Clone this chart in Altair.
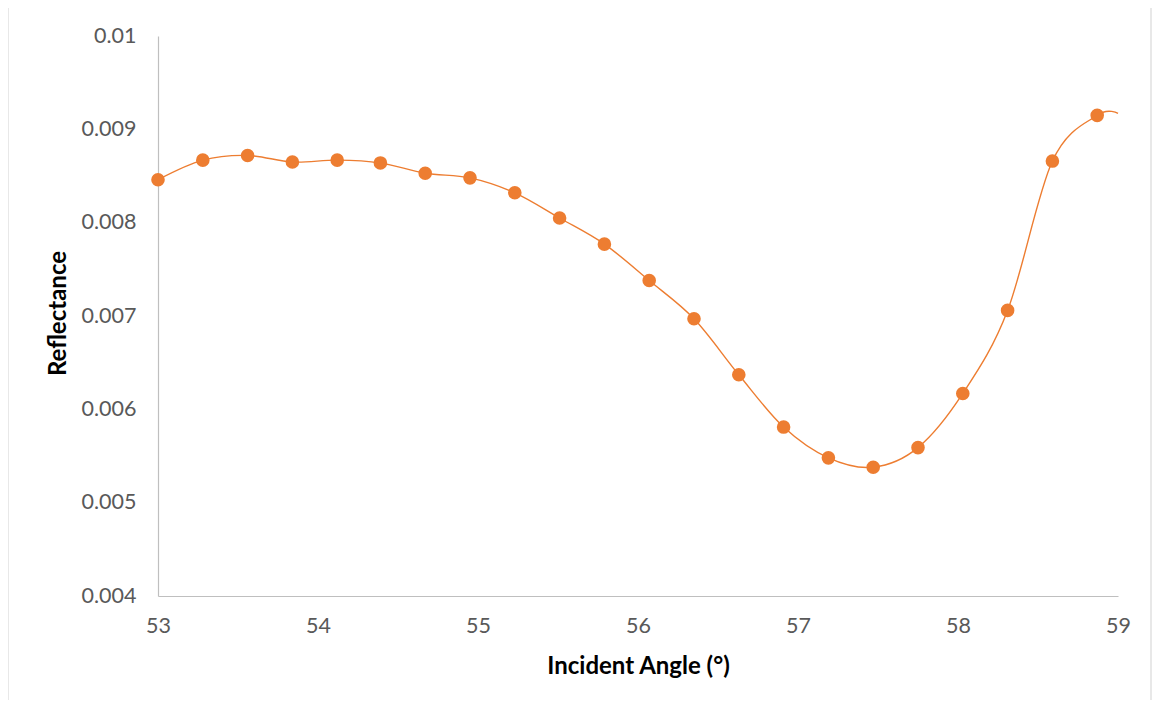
import altair as alt
import pandas as pd

# Measured data (incident angle in degrees, reflectance)
angle = [53.00, 53.28, 53.56, 53.84, 54.12, 54.39, 54.67, 54.95, 55.23, 55.51,
         55.79, 56.07, 56.35, 56.63, 56.91, 57.19, 57.47, 57.75, 58.03, 58.31,
         58.59, 58.87]
reflectance = [0.00846, 0.00867, 0.00872, 0.00865, 0.00867, 0.00864, 0.00853,
               0.00848, 0.00832, 0.00805, 0.00777, 0.00738, 0.00697, 0.00637,
               0.00581, 0.00548, 0.00538, 0.00559, 0.00617, 0.00706, 0.00866,
               0.00915]
# smoothed line continues to the end of the axis
line_angle = angle + [59.0]
line_reflectance = reflectance + [0.00917]

x_ticks = [53, 54, 55, 56, 57, 58, 59]
y_ticks = [0.004, 0.005, 0.006, 0.007, 0.008, 0.009, 0.01]

pts = pd.DataFrame({"angle": angle, "refl": reflectance})
ln = pd.DataFrame({"angle": line_angle, "refl": line_reflectance})

FONT = "Lato"
ORANGE = "#ED7D31"

x_enc = alt.X("angle:Q",
              scale=alt.Scale(domain=[53, 59], nice=False, zero=False),
              axis=alt.Axis(values=x_ticks, format="d", title="Incident Angle (°)",
                            grid=False, ticks=False, domainColor="#bfbfbf",
                            domainWidth=1.2, labelFont=FONT, labelFontSize=21.5,
                            labelColor="#595959", labelPadding=19,
                            labelFlush=False,
                            titleFont=FONT, titleFontSize=24, titleFontWeight="bold",
                            titleColor="#000000", titleX=480, titleY=70,
                            titleAlign="center", titleBaseline="middle"))
y_enc = alt.Y("refl:Q",
              scale=alt.Scale(domain=[0.004, 0.01], nice=False, zero=False),
              axis=alt.Axis(values=y_ticks, format="~g", title="Reflectance",
                            grid=False, ticks=False, domainColor="#bfbfbf",
                            domainWidth=1.2, labelFont=FONT, labelFontSize=21.5,
                            labelColor="#595959", labelPadding=22,
                            labelFlush=False,
                            titleFont=FONT, titleFontSize=24, titleFontWeight="bold",
                            titleColor="#000000", titleX=-100, titleY=277,
                            titleAngle=-90, titleAlign="center",
                            titleBaseline="middle"))

border = alt.Chart(pd.DataFrame({"a": [0]})).mark_rect(
    fill="transparent", stroke="#d9d9d9", strokeWidth=1.2
).encode(x=alt.value(-150), x2=alt.value(993), y=alt.value(-29), y2=alt.value(720))

line = alt.Chart(ln).mark_line(
    color=ORANGE, strokeWidth=1.4, interpolate="cardinal"
).encode(x=x_enc, y=y_enc)

points = alt.Chart(pts).mark_circle(
    color=ORANGE, size=185, opacity=1
).encode(x=x_enc, y=y_enc)

chart = alt.layer(border, line, points).properties(
    width=960, height=560,
    autosize=alt.AutoSizeParams(type="none"),
    padding={"left": 150, "top": 28, "right": 34, "bottom": 104},
    background="white",
).configure_view(stroke=None)

chart.save("out.html", embed_options={"renderer": "svg", "actions": False})
